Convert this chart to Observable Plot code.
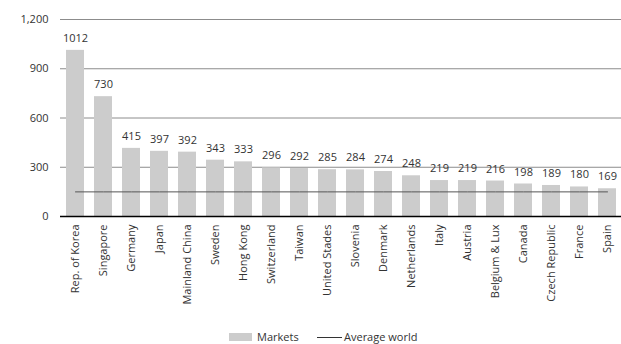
<!DOCTYPE html>
<html>
<head>
<meta charset="utf-8">
<script src="https://cdn.jsdelivr.net/npm/d3@7"></script>
<script src="https://cdn.jsdelivr.net/npm/@observablehq/plot@0.6"></script>
<style>
  body { margin: 0; background: #fff; font-family: "Open Sans", sans-serif; }
  #legend { position: relative; height: 22px; font-size: 11px; color: #333; }
  .sw-bar { position: absolute; left: 229px; top: 11px; width: 23px; height: 8px; background: #cccccc; }
  .t1 { position: absolute; left: 257px; top: 7px; line-height: 15px; }
  .sw-line { position: absolute; left: 317px; top: 15px; width: 25px; height: 1px; background: #333; }
  .t2 { position: absolute; left: 344px; top: 7px; line-height: 15px; }
</style>
</head>
<body>
<div id="chart"></div>
<div id="legend">
  <span class="sw-bar"></span><span class="t1">Markets</span>
  <span class="sw-line"></span><span class="t2">Average world</span>
</div>
<script>
const markets = ["Rep. of Korea","Singapore","Germany","Japan","Mainland China","Sweden","Hong Kong","Switzerland","Taiwan","United Stades","Slovenia","Denmark","Netherlands","Italy","Austria","Belgium & Lux","Canada","Czech Republic","France","Spain"];
const values = [1012,730,415,397,392,343,333,296,292,285,284,274,248,219,219,216,198,189,180,169];
const averageWorld = 150;
const yTicks = [0,300,600,900,1200];

const data = markets.map((m, i) => ({market: m, value: values[i], avg: averageWorld}));

const chart = Plot.plot({
  width: 621,
  height: 322,
  marginTop: 19,
  marginBottom: 106,
  marginLeft: 60,
  marginRight: 0,
  style: {fontFamily: "Open Sans, sans-serif", fontSize: "11px", color: "#333", background: "#fff"},
  x: {type: "band", domain: markets, paddingInner: 0.36, paddingOuter: 0.18, label: null},
  y: {domain: [0, 1200], label: null},
  marks: [
    Plot.ruleY(yTicks.filter(d => d > 0), {stroke: "#8c8c8c", strokeWidth: 1}),
    Plot.barY(data, {x: "market", y: "value", fill: "#cccccc"}),
    Plot.line(data, {x: "market", y: "avg", stroke: "#555", strokeWidth: 1}),
    Plot.ruleY([0], {stroke: "#000", strokeWidth: 1.5}),
    Plot.text(data, {x: "market", y: "value", text: d => String(d.value), dy: -12, fill: "#333", fontSize: 11}),
    Plot.axisY({ticks: yTicks, tickFormat: d3.format(","), tickSize: 0, tickPadding: 12, fill: "#333", fontSize: 11}),
    Plot.axisX({tickSize: 0, tickPadding: 8, tickRotate: -90, fill: "#333", fontSize: 11})
  ]
});
document.getElementById("chart").appendChild(chart);
</script>
</body>
</html>
